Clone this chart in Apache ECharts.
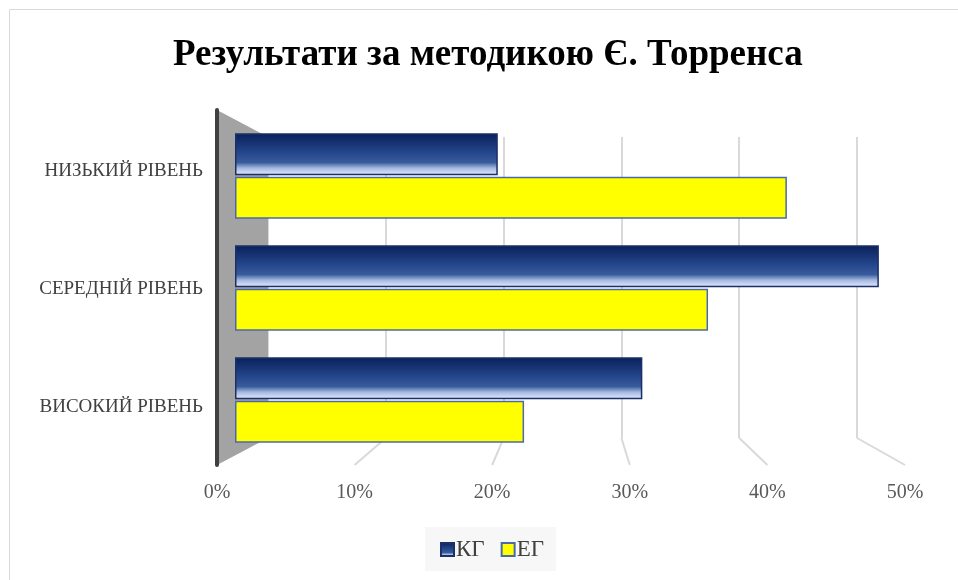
<!DOCTYPE html>
<html>
<head>
<meta charset="utf-8">
<script src="https://cdn.jsdelivr.net/npm/echarts@6/dist/echarts.min.js"></script>
<style>
html, body { margin: 0; background: #fff; }
#chart { width: 958px; height: 580px; }
</style>
</head>
<body>
<div id="chart"></div>
<script>
// data
var categories = ['НИЗЬКИЙ РІВЕНЬ', 'СЕРЕДНІЙ РІВЕНЬ', 'ВИСОКИЙ РІВЕНЬ'];
var kgValues = [20, 49, 31];
var egValues = [42, 36, 22];
var xTicks = [0, 10, 20, 30, 40, 50];

// 3d-ish layout: front plane (labels), bar plane, back wall (grid lines)
var front = { left: 217, top: 112, width: 688, height: 354 };
var mid = { left: 235, top: 120, width: 657, height: 336 };
var back = { left: 268, top: 137, width: 589, height: 301 };

var FONT = '"Liberation Serif", "Times New Roman", serif';

var dom = document.getElementById('chart');
var myChart = echarts.init(dom);

var kgColor = new echarts.graphic.LinearGradient(0, 0, 0, 1, [
    { offset: 0, color: '#0a1f5a' },
    { offset: 0.45, color: '#23458a' },
    { offset: 0.7, color: '#3a5c9d' },
    { offset: 0.83, color: '#a3b7de' },
    { offset: 0.93, color: '#cbd8f1' },
    { offset: 1, color: '#d6e0f4' }
]);

var xMin = xTicks[0], xMax = xTicks[xTicks.length - 1], xStep = xTicks[1] - xTicks[0];

option = {
    backgroundColor: '#fff',
    title: {
        text: 'Результати за методикою Є. Торренса',
        left: 168,
        top: 32,
        textStyle: { fontFamily: FONT, fontSize: 37, fontWeight: 'bold', color: '#000' }
    },
    legend: {
        data: ['КГ', 'ЕГ'],
        left: 425,
        top: 527,
        padding: [11, 12, 10, 15],
        backgroundColor: '#f7f7f7',
        icon: 'rect',
        itemWidth: 13,
        itemHeight: 13,
        itemGap: 16,
        textStyle: { fontFamily: FONT, fontSize: 23, color: '#404040', padding: [0, 0, 0, -3] }
    },
    grid: [
        { left: front.left, top: front.top, width: front.width, height: front.height },
        { left: mid.left, top: mid.top, width: mid.width, height: mid.height },
        { left: back.left, top: back.top, width: back.width, height: back.height }
    ],
    xAxis: [
        {
            gridIndex: 0, type: 'value', min: xMin, max: xMax, interval: xStep,
            axisLine: { show: false }, axisTick: { show: false }, splitLine: { show: false },
            axisLabel: { formatter: '{value}%', margin: 17, fontFamily: FONT, fontSize: 20, color: '#595959' }
        },
        {
            gridIndex: 1, type: 'value', min: xMin, max: xMax, interval: xStep,
            axisLine: { show: false }, axisTick: { show: false }, splitLine: { show: false },
            axisLabel: { show: false }
        },
        {
            gridIndex: 2, type: 'value', min: xMin, max: xMax, interval: xStep,
            axisLine: { show: false }, axisTick: { show: false },
            splitLine: { show: true, lineStyle: { color: '#d9d9d9', width: 2 } },
            axisLabel: { show: false }
        }
    ],
    yAxis: [
        {
            gridIndex: 0, type: 'category', data: categories, inverse: true,
            axisLine: { show: false }, axisTick: { show: false },
            axisLabel: { margin: 14, fontFamily: FONT, fontSize: 19, color: '#404040' }
        },
        {
            gridIndex: 1, type: 'category', data: categories, inverse: true,
            axisLine: { show: false }, axisTick: { show: false }, axisLabel: { show: false }
        },
        {
            gridIndex: 2, type: 'category', data: categories, inverse: true,
            axisLine: { show: false }, axisTick: { show: false }, axisLabel: { show: false }
        }
    ],
    series: [
        {
            name: 'КГ',
            type: 'bar',
            xAxisIndex: 1,
            yAxisIndex: 1,
            barWidth: 42,
            barGap: '4%',
            z: 3,
            itemStyle: { color: kgColor, borderColor: '#1b3068', borderWidth: 1.5 },
            data: kgValues
        },
        {
            name: 'ЕГ',
            type: 'bar',
            xAxisIndex: 1,
            yAxisIndex: 1,
            barWidth: 42,
            z: 3,
            itemStyle: { color: '#ffff00', borderColor: '#4a69ad', borderWidth: 1.5 },
            data: egValues
        }
    ]
};

myChart.setOption(option, true);

// wall + floor lines, placed from the axes
var extras = [];
var fx0 = myChart.convertToPixel({ xAxisIndex: 0 }, xMin);
var bx0 = myChart.convertToPixel({ xAxisIndex: 2 }, xMin);
var frontTop = 110, frontBottom = 465;
var backTop = back.top, backBottom = back.top + back.height;

xTicks.slice(1).forEach(function (v) {
    var bx = myChart.convertToPixel({ xAxisIndex: 2 }, v);
    var fx = myChart.convertToPixel({ xAxisIndex: 0 }, v);
    extras.push({
        type: 'line', z: 0, silent: true,
        shape: { x1: bx, y1: backBottom, x2: fx, y2: frontBottom },
        style: { stroke: '#d9d9d9', lineWidth: 2 }
    });
});
extras.push({
    type: 'polygon', z: 1, silent: true,
    shape: { points: [[fx0, frontTop], [bx0, backTop], [bx0, backBottom], [fx0, frontBottom]] },
    style: { fill: '#a3a3a3' }
});
extras.push({
    type: 'line', z: 1, silent: true,
    shape: { x1: fx0, y1: frontTop, x2: fx0, y2: frontBottom },
    style: { stroke: '#404040', lineWidth: 4, lineCap: 'round' }
});
extras.push({
    type: 'rect', z: 0, silent: true,
    shape: { x: 9.5, y: 9.5, width: 1000, height: 600 },
    style: { fill: 'none', stroke: '#d9d9d9', lineWidth: 1 }
});

myChart.setOption({ graphic: extras });

window.addEventListener('resize', function () { myChart.resize(); });
</script>
</body>
</html>
